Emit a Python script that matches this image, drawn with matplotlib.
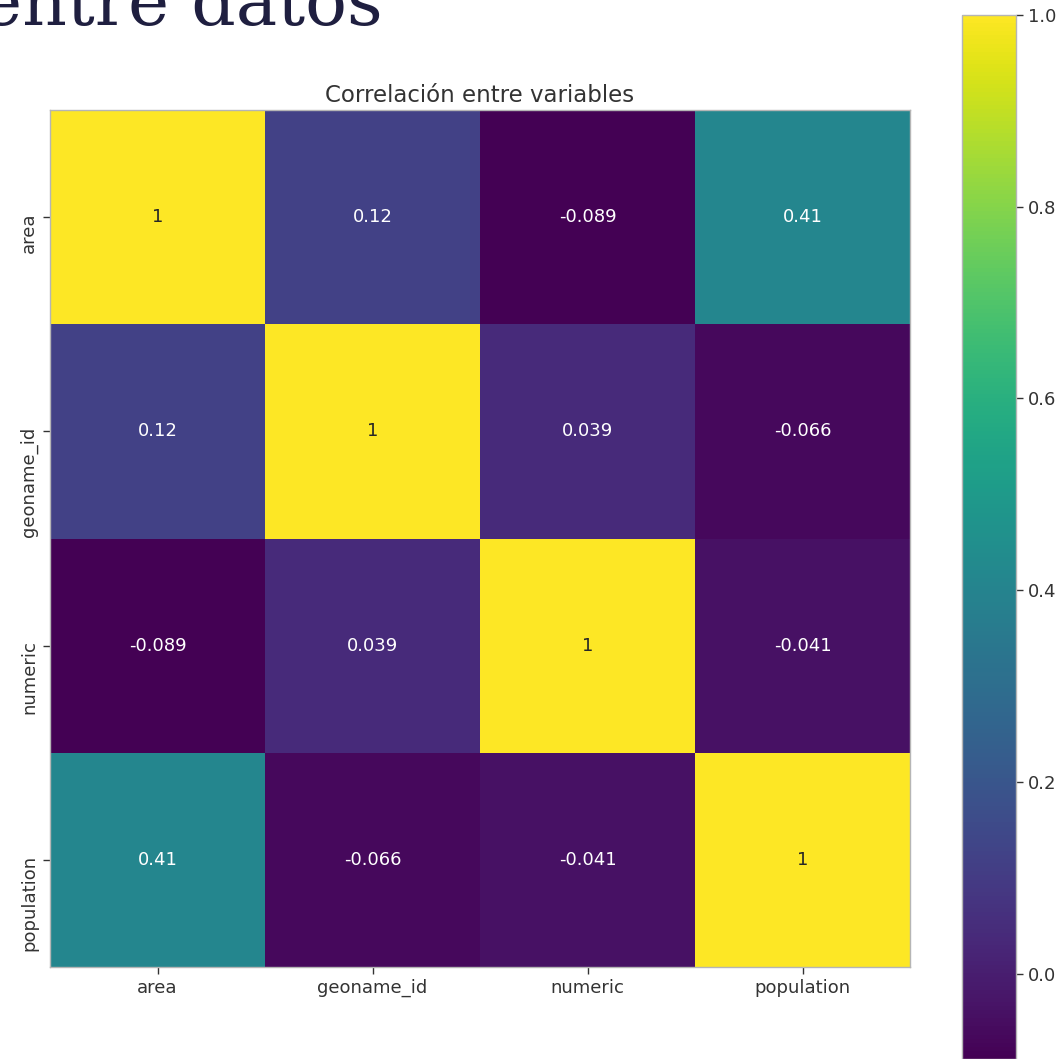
import numpy as np
import matplotlib
matplotlib.use("Agg")
import matplotlib.pyplot as plt
import matplotlib.transforms as mtransforms
import seaborn as sns

# correlation matrix between the numeric columns
variables = ["area", "geoname_id", "numeric", "population"]
row_area = [1.0, 0.12, -0.089, 0.41]
row_geoname = [0.12, 1.0, 0.039, -0.066]
row_numeric = [-0.089, 0.039, 1.0, -0.041]
row_population = [0.41, -0.066, -0.041, 1.0]
cbar_ticks = [0.0, 0.2, 0.4, 0.6, 0.8, 1.0]

corr = np.array([row_area, row_geoname, row_numeric, row_population])

W, H = 1063, 1059
fig = plt.figure(figsize=(W / 100, H / 100), dpi=100)

ax = fig.add_axes([50 / W, (H - 967) / H, 860 / W, 857 / H])
cax = fig.add_axes([962 / W, 0.0, 54 / W, (H - 15) / H])

sns.heatmap(
    corr,
    ax=ax,
    cbar_ax=cax,
    cmap="viridis",
    annot=True,
    annot_kws={"fontsize": 13},
    xticklabels=variables,
    yticklabels=variables,
)

for side in ["top", "bottom", "left", "right"]:
    ax.spines[side].set_visible(True)
    ax.spines[side].set_color("#b5b5b5")
    ax.spines[side].set_linewidth(1.0)

ax.tick_params(axis="both", length=5, width=1, color="#333333", labelsize=13, labelcolor="#333333")
ax.set_xticklabels(variables, rotation=0)
ax.set_yticklabels(variables, rotation=90, va="top")
# y labels start a little above their tick
shift = mtransforms.ScaledTranslation(0, 5 / 100, fig.dpi_scale_trans)
for lbl in ax.get_yticklabels():
    lbl.set_transform(lbl.get_transform() + shift)

ax.set_title("Correlación entre variables", fontsize=16.5, color="#333333", pad=6)

cb = ax.collections[0].colorbar
cb.set_ticks(cbar_ticks)
cb.set_ticklabels([f"{t:.1f}" for t in cbar_ticks])
cb.outline.set_visible(True)
cb.outline.set_linewidth(1.0)
cb.outline.set_edgecolor("#b5b5b5")
cax.tick_params(length=5, width=1, color="#333333", labelsize=13, labelcolor="#333333")

# slide heading, partially cut off at the top
fig.text(383 / W, (H - 25) / H, "entre datos", family="DejaVu Serif", fontsize=50,
         color="#1f1f40", ha="right", va="baseline")

fig.savefig("out.png", dpi=100)
